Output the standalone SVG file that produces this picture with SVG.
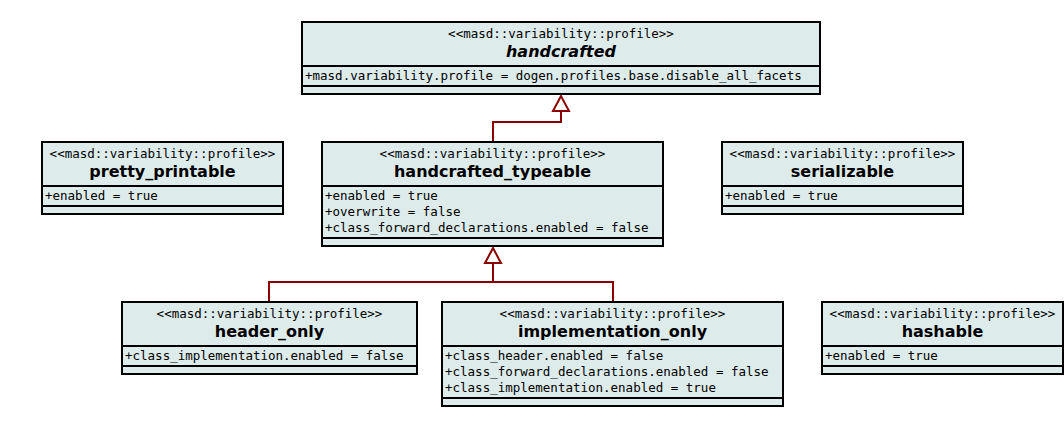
<svg xmlns="http://www.w3.org/2000/svg" width="1064" height="443" viewBox="0 0 1064 443">
<style>
.b{fill:#ddebeb;stroke:#000;stroke-width:2}
.l{stroke:#000;stroke-width:2}
.s{font-family:"DejaVu Sans Mono",monospace;font-size:12.5px;text-anchor:middle}
.a{font-family:"DejaVu Sans Mono",monospace;font-size:12.5px}
.n{font-family:"DejaVu Sans",sans-serif;font-size:16px;font-weight:bold;text-anchor:middle}
.c{fill:none;stroke:#8b0000;stroke-width:2}
.t{fill:#fff;stroke:#8b0000;stroke-width:2}
</style>
<rect width="1064" height="443" fill="#fff"/>
<g id="connectors">
<path class="c" d="M493,142V122H561V111"/>
<polygon class="t" points="561,96 553,111 569,111"/>
<path class="c" d="M269,302V282H613V302M493,282V263"/>
<polygon class="t" points="493,248 485,263 501,263"/>
</g>
<g id="handcrafted">
<rect class="b" x="302" y="22" width="518" height="72"/>
<line class="l" x1="302" y1="66" x2="820" y2="66"/><line class="l" x1="302" y1="86" x2="820" y2="86"/>
<text class="s" x="561" y="38">&lt;&lt;masd::variability::profile&gt;&gt;</text>
<text class="n" x="561" y="57" font-style="italic">handcrafted</text>
<text class="a" x="305" y="80">+masd.variability.profile = dogen.profiles.base.disable_all_facets</text>
</g>
<g id="pretty_printable">
<rect class="b" x="42" y="142" width="241" height="72"/>
<line class="l" x1="42" y1="186" x2="283" y2="186"/><line class="l" x1="42" y1="206" x2="283" y2="206"/>
<text class="s" x="162.5" y="158">&lt;&lt;masd::variability::profile&gt;&gt;</text>
<text class="n" x="162.5" y="177">pretty_printable</text>
<text class="a" x="45" y="200">+enabled = true</text>
</g>
<g id="handcrafted_typeable">
<rect class="b" x="322" y="142" width="341" height="104"/>
<line class="l" x1="322" y1="186" x2="663" y2="186"/><line class="l" x1="322" y1="238" x2="663" y2="238"/>
<text class="s" x="492.5" y="158">&lt;&lt;masd::variability::profile&gt;&gt;</text>
<text class="n" x="492.5" y="177">handcrafted_typeable</text>
<text class="a" x="325" y="200">+enabled = true</text>
<text class="a" x="325" y="216">+overwrite = false</text>
<text class="a" x="325" y="232">+class_forward_declarations.enabled = false</text>
</g>
<g id="serializable">
<rect class="b" x="722" y="142" width="241" height="72"/>
<line class="l" x1="722" y1="186" x2="963" y2="186"/><line class="l" x1="722" y1="206" x2="963" y2="206"/>
<text class="s" x="842.5" y="158">&lt;&lt;masd::variability::profile&gt;&gt;</text>
<text class="n" x="842.5" y="177">serializable</text>
<text class="a" x="725" y="200">+enabled = true</text>
</g>
<g id="header_only">
<rect class="b" x="122" y="302" width="295" height="72"/>
<line class="l" x1="122" y1="346" x2="417" y2="346"/><line class="l" x1="122" y1="366" x2="417" y2="366"/>
<text class="s" x="269.5" y="318">&lt;&lt;masd::variability::profile&gt;&gt;</text>
<text class="n" x="269.5" y="337">header_only</text>
<text class="a" x="125" y="360">+class_implementation.enabled = false</text>
</g>
<g id="implementation_only">
<rect class="b" x="442" y="302" width="341" height="104"/>
<line class="l" x1="442" y1="346" x2="783" y2="346"/><line class="l" x1="442" y1="398" x2="783" y2="398"/>
<text class="s" x="612.5" y="318">&lt;&lt;masd::variability::profile&gt;&gt;</text>
<text class="n" x="612.5" y="337">implementation_only</text>
<text class="a" x="445" y="360">+class_header.enabled = false</text>
<text class="a" x="445" y="376">+class_forward_declarations.enabled = false</text>
<text class="a" x="445" y="392">+class_implementation.enabled = true</text>
</g>
<g id="hashable">
<rect class="b" x="822" y="302" width="241" height="72"/>
<line class="l" x1="822" y1="346" x2="1063" y2="346"/><line class="l" x1="822" y1="366" x2="1063" y2="366"/>
<text class="s" x="942.5" y="318">&lt;&lt;masd::variability::profile&gt;&gt;</text>
<text class="n" x="942.5" y="337">hashable</text>
<text class="a" x="825" y="360">+enabled = true</text>
</g>
</svg>
